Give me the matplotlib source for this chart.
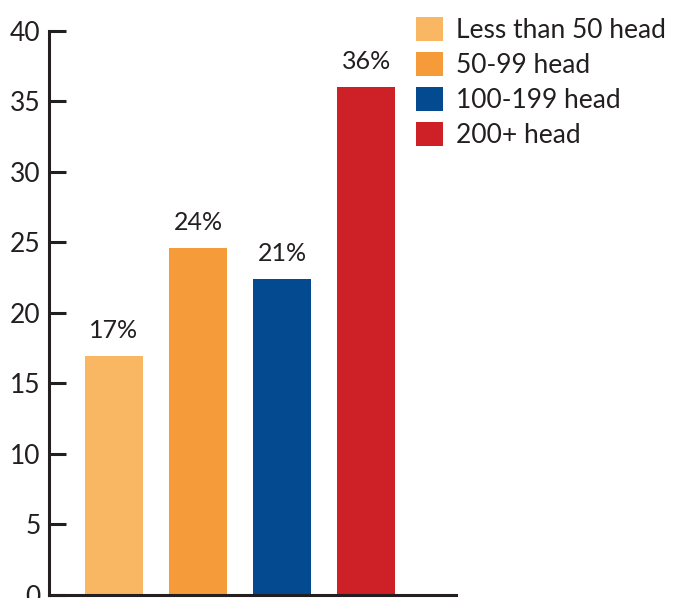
import matplotlib
matplotlib.use("Agg")
import matplotlib.pyplot as plt
import numpy as np

# values (bar heights and the printed labels)
categories = ["Less than 50 head", "50-99 head", "100-199 head", "200+ head"]
heights = [16.9, 24.6, 22.4, 36.0]
labels = ["17%", "24%", "21%", "36%"]
colors = ["#F9B763", "#F59B3A", "#034A90", "#CD2027"]
yticks = [0, 5, 10, 15, 20, 25, 30, 35, 40]

plt.rcParams["font.family"] = ["Lato", "DejaVu Sans"]
ink = "#231F20"

fig = plt.figure(figsize=(6.73, 5.98), dpi=100)
ax = fig.add_axes([0.073, 0.0057, 0.605, 0.9425])

x = np.arange(len(categories))
bars = ax.bar(x, heights, width=0.69, color=colors, label=categories, zorder=2)

for xi, h, lab in zip(x, heights, labels):
    ax.text(xi, h + 1.0, lab, ha="center", va="bottom", fontsize=18, color=ink)

ax.set_xlim(-0.77, 4.07)
ax.set_ylim(0, 40)
ax.set_yticks(yticks)
ax.set_xticks([])
for s in ["top", "right"]:
    ax.spines[s].set_visible(False)
for s in ["left", "bottom"]:
    ax.spines[s].set_color(ink)
    ax.spines[s].set_linewidth(2.2)
ax.tick_params(axis="y", direction="in", length=12, width=2.2, color=ink,
               labelsize=19, labelcolor=ink, pad=6)
for t in ax.get_yticklabels():
    t.set_clip_on(False)

fig.legend(handles=bars.patches, labels=categories, loc="upper left",
           bbox_to_anchor=(0.592, 1.0), frameon=False, fontsize=19,
           handlelength=1.03, handleheight=1.03, handletextpad=0.5,
           labelspacing=0.33, borderaxespad=0.25, labelcolor=ink)

fig.savefig("out.png", dpi=100)
